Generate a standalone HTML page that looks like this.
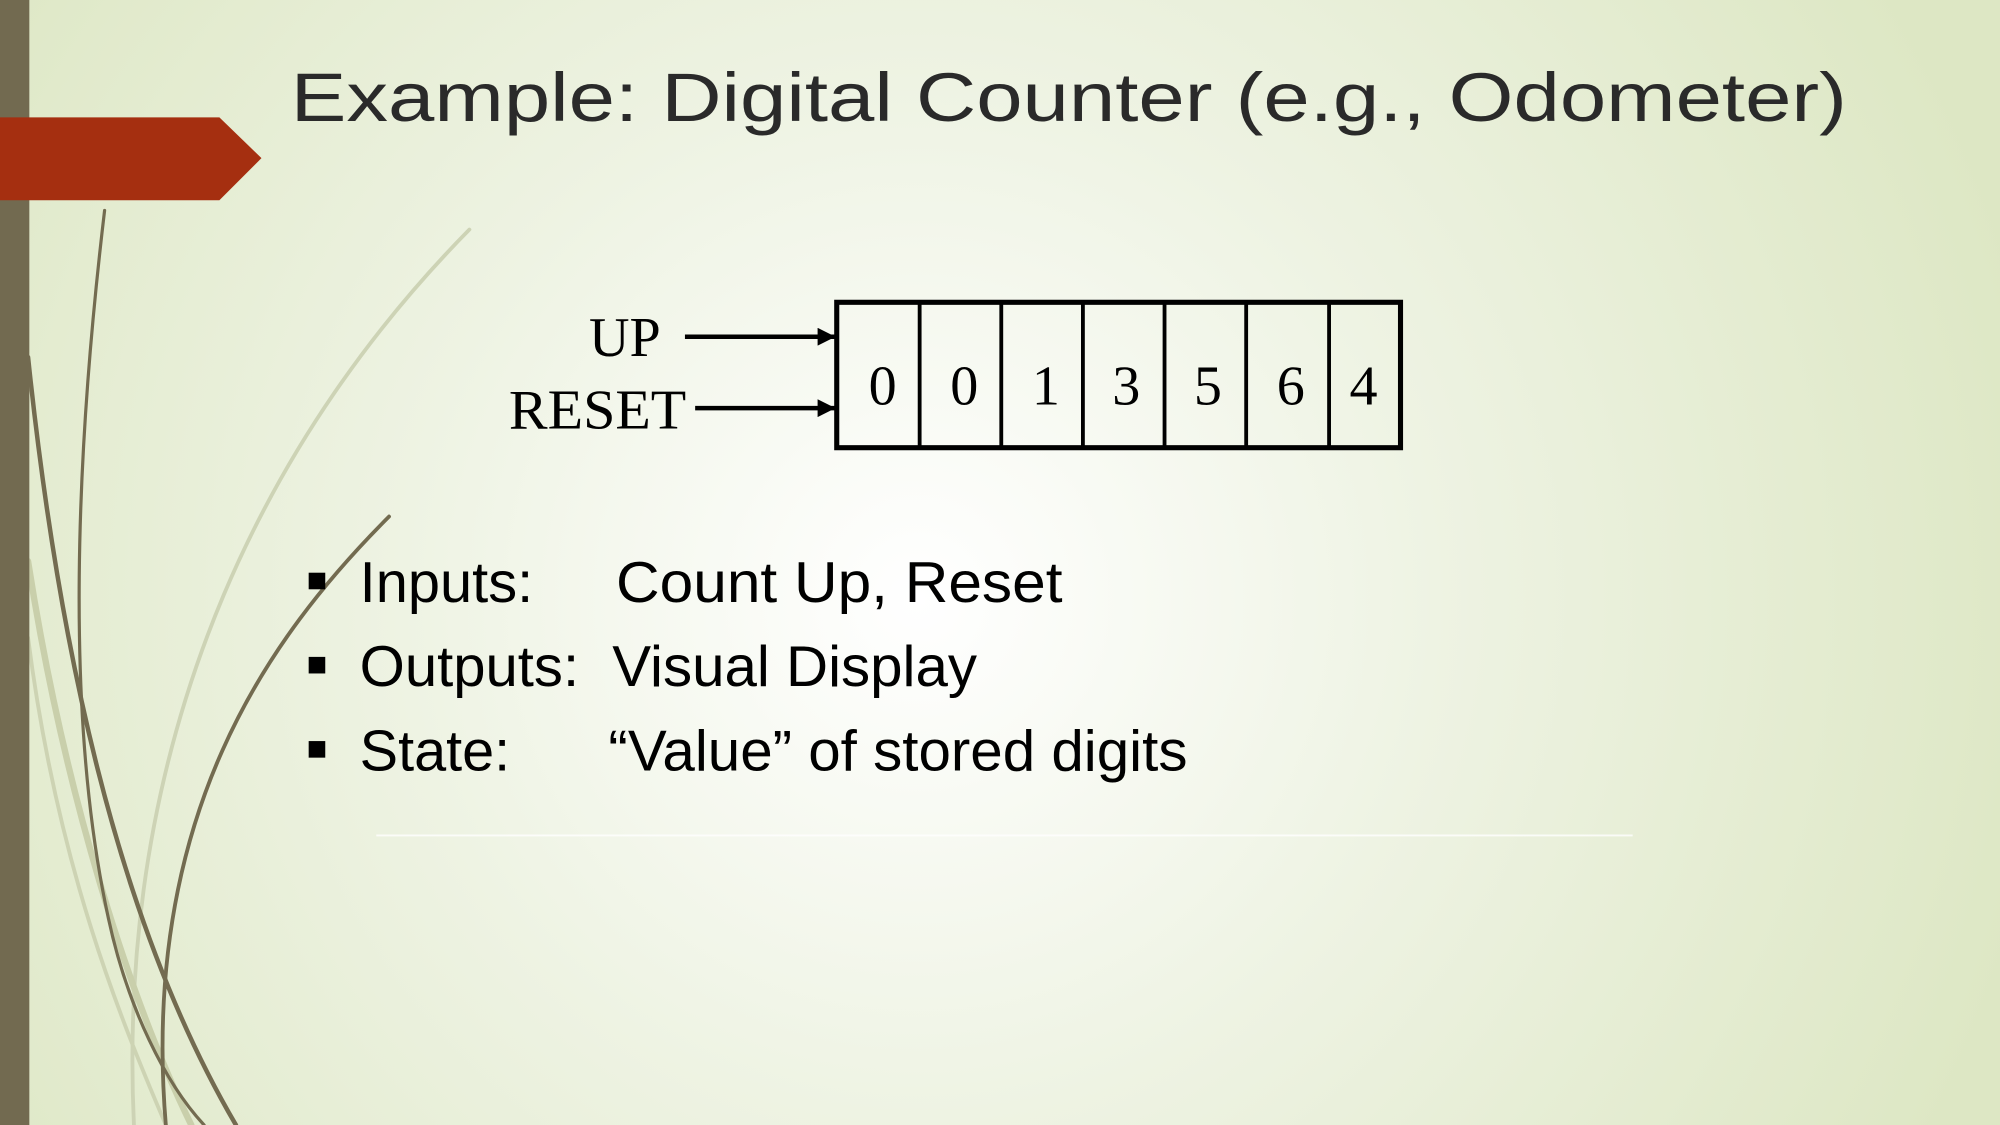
<!DOCTYPE html>
<html><head><meta charset="utf-8"><style>
html,body{margin:0;padding:0;width:2000px;height:1125px;overflow:hidden}
svg{display:block}
</style></head><body>
<svg width="2000" height="1125" viewBox="0 0 1568 882" xmlns="http://www.w3.org/2000/svg" xml:space="preserve">
<defs>
<radialGradient id="bg" cx="720" cy="470" r="900" gradientUnits="userSpaceOnUse">
<stop offset="0" stop-color="#ffffff"/>
<stop offset="0.45" stop-color="#eef3e3"/>
<stop offset="1" stop-color="#dde7c4"/>
</radialGradient>
<marker id="ah" viewBox="0 0 10 10" refX="10" refY="5" markerWidth="4" markerHeight="4" orient="auto"><path d="M0,0 L10,5 L0,10z" fill="#000"/></marker>
</defs>
<rect width="1568" height="882" fill="url(#bg)"/>
<g fill="none" stroke-linecap="round">
<path d="M368,180 C220,330 90,560 105,882" stroke="#cdd3b5" stroke-width="3"/>
<path d="M22,440 C50,620 100,780 150,882" stroke="#c9cfab" stroke-width="5"/>
<path d="M22,500 C45,680 95,800 130,882" stroke="#cdd3b3" stroke-width="3"/>
<path d="M82,165 C60,350 50,560 85,720 C100,790 130,850 160,882" stroke="#736b50" stroke-width="2.5"/>
<path d="M22,280 C45,500 90,720 185,882" stroke="#736b50" stroke-width="3.5"/>
<path d="M305,405 C210,500 110,640 130,882" stroke="#736b50" stroke-width="3"/>
</g>
<rect x="0" y="0" width="23" height="882" fill="#726a50"/>
<path d="M0,92 L172,92 L205,124 L172,157 L0,157z" fill="#a52f10"/>
<text x="228" y="95" font-family="Liberation Sans, sans-serif" font-size="54" fill="#2a2a2a" textLength="1220" lengthAdjust="spacingAndGlyphs">Example:  Digital Counter (e.g., Odometer)</text>
<rect x="656" y="237" width="442" height="114" fill="none" stroke="#000" stroke-width="4"/>
<g stroke="#000" stroke-width="3">
<line x1="721" y1="237" x2="721" y2="351"/><line x1="785" y1="237" x2="785" y2="351"/>
<line x1="849" y1="237" x2="849" y2="351"/><line x1="913" y1="237" x2="913" y2="351"/>
<line x1="977" y1="237" x2="977" y2="351"/><line x1="1042" y1="237" x2="1042" y2="351"/>
</g>
<g font-family="Liberation Serif, serif" font-size="44" text-anchor="middle" fill="#000">
<text x="692" y="317">0</text><text x="756" y="317">0</text><text x="820" y="317">1</text>
<text x="883" y="317">3</text><text x="947" y="317">5</text><text x="1012" y="317">6</text><text x="1069" y="317">4</text>
<text x="518" y="279" text-anchor="end">UP</text>
<text x="538" y="336" text-anchor="end" textLength="139" lengthAdjust="spacingAndGlyphs">RESET</text>
</g>
<line x1="537" y1="264" x2="655" y2="264" stroke="#000" stroke-width="3.5" marker-end="url(#ah)"/>
<line x1="545" y1="320" x2="655" y2="320" stroke="#000" stroke-width="3.5" marker-end="url(#ah)"/>
<g fill="#000">
<rect x="242" y="449" width="13" height="13"/><rect x="242" y="515" width="13" height="13"/><rect x="242" y="581" width="13" height="13"/>
</g>
<g font-family="Liberation Sans, sans-serif" font-size="45" fill="#000">
<text x="282" y="472" textLength="136" lengthAdjust="spacingAndGlyphs">Inputs:</text><text x="483" y="472" textLength="350" lengthAdjust="spacingAndGlyphs">Count Up,  Reset</text>
<text x="282" y="538" textLength="172" lengthAdjust="spacingAndGlyphs">Outputs:</text><text x="480" y="538" textLength="286" lengthAdjust="spacingAndGlyphs">Visual Display</text>
<text x="282" y="604" textLength="118" lengthAdjust="spacingAndGlyphs">State:</text><text x="477" y="604" textLength="454" lengthAdjust="spacingAndGlyphs">“Value” of stored digits</text>
</g>
<line x1="295" y1="655" x2="1280" y2="655" stroke="#ffffff" stroke-width="1.5" opacity="0.8"/>
</svg>
</body></html>
